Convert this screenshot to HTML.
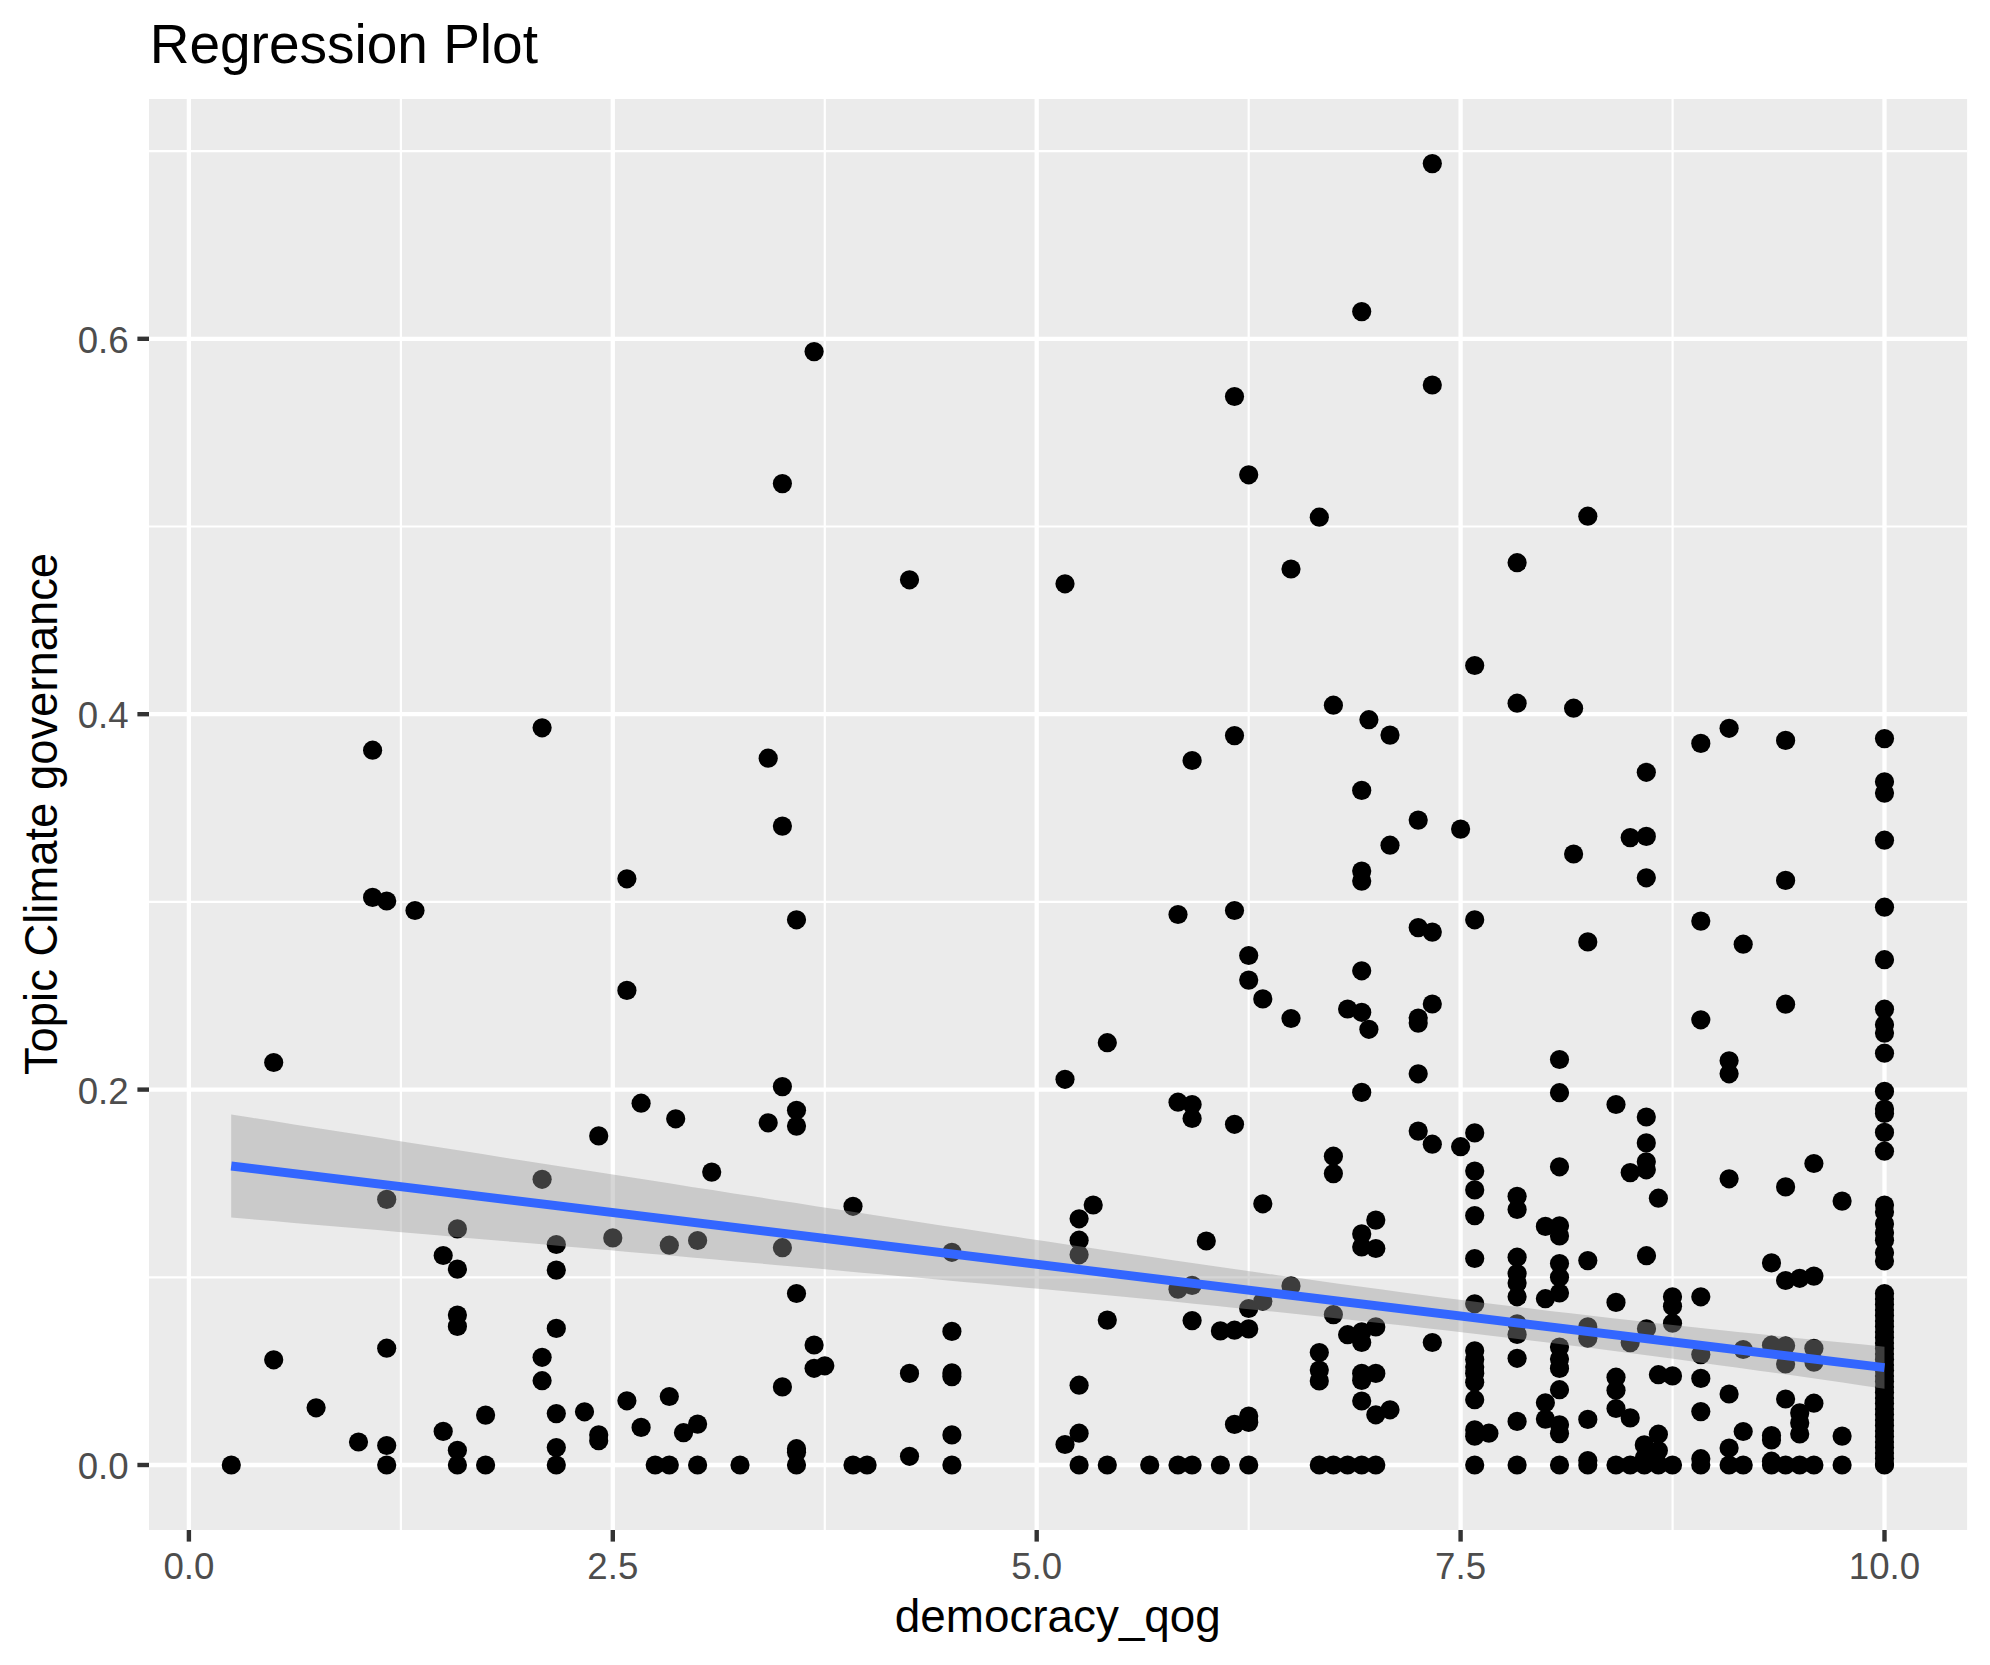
<!DOCTYPE html>
<html lang="en"><head><meta charset="utf-8"><title>Regression Plot</title>
<style>html,body{margin:0;padding:0;background:#fff}svg{display:block}text{font-family:"Liberation Sans", Arial, Helvetica, sans-serif}</style></head><body>
<svg width="1990" height="1665" viewBox="0 0 1990 1665">
<rect width="1990" height="1665" fill="#fff"/>
<rect x="149.0" y="99.0" width="1818.1" height="1431.0" fill="#EBEBEB"/>
<g stroke="#fff" stroke-width="2.2">
<line x1="149.0" x2="1967.1" y1="1277.3" y2="1277.3"/>
<line x1="149.0" x2="1967.1" y1="901.9" y2="901.9"/>
<line x1="149.0" x2="1967.1" y1="526.5" y2="526.5"/>
<line x1="149.0" x2="1967.1" y1="151.1" y2="151.1"/>
<line x1="400.9" x2="400.9" y1="99.0" y2="1530.0"/>
<line x1="824.8" x2="824.8" y1="99.0" y2="1530.0"/>
<line x1="1248.7" x2="1248.7" y1="99.0" y2="1530.0"/>
<line x1="1672.6" x2="1672.6" y1="99.0" y2="1530.0"/>
</g>
<g stroke="#fff" stroke-width="4.3">
<line x1="149.0" x2="1967.1" y1="1465.0" y2="1465.0"/>
<line x1="149.0" x2="1967.1" y1="1089.6" y2="1089.6"/>
<line x1="149.0" x2="1967.1" y1="714.2" y2="714.2"/>
<line x1="149.0" x2="1967.1" y1="338.8" y2="338.8"/>
<line x1="188.9" x2="188.9" y1="99.0" y2="1530.0"/>
<line x1="612.8" x2="612.8" y1="99.0" y2="1530.0"/>
<line x1="1036.7" x2="1036.7" y1="99.0" y2="1530.0"/>
<line x1="1460.6" x2="1460.6" y1="99.0" y2="1530.0"/>
<line x1="1884.5" x2="1884.5" y1="99.0" y2="1530.0"/>
</g>
<g fill="#000">
<circle cx="231.3" cy="1465.0" r="9.6"/>
<circle cx="273.7" cy="1359.8" r="9.6"/>
<circle cx="316.1" cy="1407.8" r="9.6"/>
<circle cx="358.5" cy="1442.0" r="9.6"/>
<circle cx="386.7" cy="1465.0" r="9.6"/>
<circle cx="386.7" cy="1445.5" r="9.6"/>
<circle cx="386.7" cy="1348.2" r="9.6"/>
<circle cx="443.2" cy="1255.5" r="9.6"/>
<circle cx="443.2" cy="1431.4" r="9.6"/>
<circle cx="457.4" cy="1228.9" r="9.6"/>
<circle cx="457.4" cy="1269.1" r="9.6"/>
<circle cx="457.4" cy="1315.1" r="9.6"/>
<circle cx="457.4" cy="1326.4" r="9.6"/>
<circle cx="457.4" cy="1450.3" r="9.6"/>
<circle cx="457.4" cy="1465.0" r="9.6"/>
<circle cx="485.6" cy="1415.1" r="9.6"/>
<circle cx="485.6" cy="1465.0" r="9.6"/>
<circle cx="542.1" cy="1357.3" r="9.6"/>
<circle cx="542.1" cy="1380.7" r="9.6"/>
<circle cx="556.3" cy="1244.5" r="9.6"/>
<circle cx="556.3" cy="1270.1" r="9.6"/>
<circle cx="556.3" cy="1328.4" r="9.6"/>
<circle cx="556.3" cy="1413.6" r="9.6"/>
<circle cx="556.3" cy="1447.5" r="9.6"/>
<circle cx="556.3" cy="1465.0" r="9.6"/>
<circle cx="584.5" cy="1411.8" r="9.6"/>
<circle cx="598.7" cy="1434.9" r="9.6"/>
<circle cx="598.7" cy="1440.7" r="9.6"/>
<circle cx="612.8" cy="1237.9" r="9.6"/>
<circle cx="626.9" cy="1400.8" r="9.6"/>
<circle cx="641.1" cy="1427.4" r="9.6"/>
<circle cx="655.2" cy="1465.0" r="9.6"/>
<circle cx="669.3" cy="1245.2" r="9.6"/>
<circle cx="669.3" cy="1396.5" r="9.6"/>
<circle cx="669.3" cy="1465.0" r="9.6"/>
<circle cx="683.5" cy="1432.7" r="9.6"/>
<circle cx="697.6" cy="1240.5" r="9.6"/>
<circle cx="697.6" cy="1424.1" r="9.6"/>
<circle cx="697.6" cy="1465.0" r="9.6"/>
<circle cx="740.0" cy="1465.0" r="9.6"/>
<circle cx="782.4" cy="1247.7" r="9.6"/>
<circle cx="782.4" cy="1386.9" r="9.6"/>
<circle cx="796.5" cy="1293.5" r="9.6"/>
<circle cx="796.5" cy="1448.7" r="9.6"/>
<circle cx="796.5" cy="1452.3" r="9.6"/>
<circle cx="796.5" cy="1465.0" r="9.6"/>
<circle cx="814.1" cy="1345.0" r="9.6"/>
<circle cx="814.1" cy="1368.3" r="9.6"/>
<circle cx="824.8" cy="1365.8" r="9.6"/>
<circle cx="853.0" cy="1206.3" r="9.6"/>
<circle cx="853.0" cy="1465.0" r="9.6"/>
<circle cx="867.1" cy="1465.0" r="9.6"/>
<circle cx="909.5" cy="1373.4" r="9.6"/>
<circle cx="909.5" cy="1456.3" r="9.6"/>
<circle cx="951.9" cy="1252.3" r="9.6"/>
<circle cx="951.9" cy="1331.4" r="9.6"/>
<circle cx="951.9" cy="1372.9" r="9.6"/>
<circle cx="951.9" cy="1376.6" r="9.6"/>
<circle cx="951.9" cy="1434.9" r="9.6"/>
<circle cx="951.9" cy="1465.0" r="9.6"/>
<circle cx="1065.0" cy="1444.5" r="9.6"/>
<circle cx="1079.1" cy="1218.8" r="9.6"/>
<circle cx="1079.1" cy="1240.2" r="9.6"/>
<circle cx="1079.1" cy="1254.8" r="9.6"/>
<circle cx="1079.1" cy="1385.2" r="9.6"/>
<circle cx="1079.1" cy="1433.2" r="9.6"/>
<circle cx="1079.1" cy="1465.0" r="9.6"/>
<circle cx="1093.2" cy="1205.0" r="9.6"/>
<circle cx="1107.3" cy="1320.1" r="9.6"/>
<circle cx="1107.3" cy="1465.0" r="9.6"/>
<circle cx="1149.7" cy="1465.0" r="9.6"/>
<circle cx="1178.0" cy="1289.2" r="9.6"/>
<circle cx="1178.0" cy="1465.0" r="9.6"/>
<circle cx="1192.1" cy="1285.4" r="9.6"/>
<circle cx="1192.1" cy="1320.6" r="9.6"/>
<circle cx="1192.1" cy="1465.0" r="9.6"/>
<circle cx="1206.3" cy="1241.0" r="9.6"/>
<circle cx="1220.4" cy="1330.9" r="9.6"/>
<circle cx="1220.4" cy="1465.0" r="9.6"/>
<circle cx="1234.5" cy="1330.2" r="9.6"/>
<circle cx="1234.5" cy="1424.4" r="9.6"/>
<circle cx="1248.7" cy="1308.5" r="9.6"/>
<circle cx="1248.7" cy="1328.9" r="9.6"/>
<circle cx="1248.7" cy="1416.1" r="9.6"/>
<circle cx="1248.7" cy="1422.4" r="9.6"/>
<circle cx="1248.7" cy="1465.0" r="9.6"/>
<circle cx="1262.8" cy="1203.8" r="9.6"/>
<circle cx="1262.8" cy="1301.3" r="9.6"/>
<circle cx="1291.0" cy="1285.9" r="9.6"/>
<circle cx="1319.3" cy="1352.5" r="9.6"/>
<circle cx="1319.3" cy="1370.1" r="9.6"/>
<circle cx="1319.3" cy="1380.9" r="9.6"/>
<circle cx="1319.3" cy="1465.0" r="9.6"/>
<circle cx="1333.4" cy="1314.6" r="9.6"/>
<circle cx="1333.4" cy="1465.0" r="9.6"/>
<circle cx="1347.6" cy="1334.7" r="9.6"/>
<circle cx="1347.6" cy="1465.0" r="9.6"/>
<circle cx="1361.7" cy="1233.9" r="9.6"/>
<circle cx="1361.7" cy="1247.0" r="9.6"/>
<circle cx="1361.7" cy="1331.9" r="9.6"/>
<circle cx="1361.7" cy="1342.5" r="9.6"/>
<circle cx="1361.7" cy="1373.4" r="9.6"/>
<circle cx="1361.7" cy="1380.4" r="9.6"/>
<circle cx="1361.7" cy="1401.0" r="9.6"/>
<circle cx="1361.7" cy="1465.0" r="9.6"/>
<circle cx="1375.8" cy="1220.1" r="9.6"/>
<circle cx="1375.8" cy="1248.5" r="9.6"/>
<circle cx="1375.8" cy="1326.9" r="9.6"/>
<circle cx="1375.8" cy="1373.4" r="9.6"/>
<circle cx="1375.8" cy="1414.8" r="9.6"/>
<circle cx="1375.8" cy="1465.0" r="9.6"/>
<circle cx="1390.0" cy="1409.8" r="9.6"/>
<circle cx="1432.3" cy="1342.5" r="9.6"/>
<circle cx="1474.7" cy="1215.6" r="9.6"/>
<circle cx="1474.7" cy="1258.5" r="9.6"/>
<circle cx="1474.7" cy="1303.8" r="9.6"/>
<circle cx="1474.7" cy="1350.8" r="9.6"/>
<circle cx="1474.7" cy="1359.5" r="9.6"/>
<circle cx="1474.7" cy="1367.1" r="9.6"/>
<circle cx="1474.7" cy="1373.4" r="9.6"/>
<circle cx="1474.7" cy="1382.2" r="9.6"/>
<circle cx="1474.7" cy="1399.7" r="9.6"/>
<circle cx="1474.7" cy="1429.9" r="9.6"/>
<circle cx="1474.7" cy="1436.2" r="9.6"/>
<circle cx="1474.7" cy="1465.0" r="9.6"/>
<circle cx="1488.9" cy="1433.2" r="9.6"/>
<circle cx="1517.1" cy="1196.3" r="9.6"/>
<circle cx="1517.1" cy="1209.5" r="9.6"/>
<circle cx="1517.1" cy="1257.2" r="9.6"/>
<circle cx="1517.1" cy="1273.5" r="9.6"/>
<circle cx="1517.1" cy="1283.0" r="9.6"/>
<circle cx="1517.1" cy="1296.8" r="9.6"/>
<circle cx="1517.1" cy="1323.8" r="9.6"/>
<circle cx="1517.1" cy="1334.5" r="9.6"/>
<circle cx="1517.1" cy="1358.3" r="9.6"/>
<circle cx="1545.4" cy="1226.4" r="9.6"/>
<circle cx="1545.4" cy="1298.7" r="9.6"/>
<circle cx="1559.5" cy="1225.8" r="9.6"/>
<circle cx="1559.5" cy="1235.9" r="9.6"/>
<circle cx="1559.5" cy="1263.5" r="9.6"/>
<circle cx="1559.5" cy="1277.3" r="9.6"/>
<circle cx="1559.5" cy="1293.0" r="9.6"/>
<circle cx="1559.5" cy="1347.0" r="9.6"/>
<circle cx="1559.5" cy="1359.0" r="9.6"/>
<circle cx="1559.5" cy="1368.4" r="9.6"/>
<circle cx="1559.5" cy="1389.7" r="9.6"/>
<circle cx="1587.8" cy="1260.6" r="9.6"/>
<circle cx="1587.8" cy="1326.9" r="9.6"/>
<circle cx="1587.8" cy="1338.2" r="9.6"/>
<circle cx="1616.0" cy="1302.4" r="9.6"/>
<circle cx="1616.0" cy="1377.2" r="9.6"/>
<circle cx="1630.2" cy="1342.6" r="9.6"/>
<circle cx="1646.5" cy="1255.7" r="9.6"/>
<circle cx="1646.5" cy="1328.8" r="9.6"/>
<circle cx="1658.4" cy="1198.2" r="9.6"/>
<circle cx="1658.4" cy="1374.7" r="9.6"/>
<circle cx="1672.5" cy="1296.8" r="9.6"/>
<circle cx="1672.5" cy="1306.2" r="9.6"/>
<circle cx="1672.5" cy="1323.2" r="9.6"/>
<circle cx="1672.5" cy="1375.9" r="9.6"/>
<circle cx="1700.8" cy="1296.8" r="9.6"/>
<circle cx="1700.8" cy="1354.6" r="9.6"/>
<circle cx="1700.8" cy="1378.4" r="9.6"/>
<circle cx="1842.1" cy="1201.1" r="9.6"/>
<circle cx="1771.5" cy="1262.9" r="9.6"/>
<circle cx="1785.6" cy="1280.5" r="9.6"/>
<circle cx="1799.7" cy="1278.3" r="9.6"/>
<circle cx="1813.9" cy="1276.1" r="9.6"/>
<circle cx="1743.2" cy="1349.5" r="9.6"/>
<circle cx="1771.5" cy="1345.2" r="9.6"/>
<circle cx="1785.6" cy="1345.8" r="9.6"/>
<circle cx="1785.6" cy="1364.0" r="9.6"/>
<circle cx="1813.9" cy="1348.3" r="9.6"/>
<circle cx="1813.9" cy="1362.1" r="9.6"/>
<circle cx="1884.5" cy="1205.1" r="9.6"/>
<circle cx="1884.5" cy="1212.0" r="9.6"/>
<circle cx="1884.5" cy="1223.9" r="9.6"/>
<circle cx="1884.5" cy="1232.7" r="9.6"/>
<circle cx="1884.5" cy="1240.3" r="9.6"/>
<circle cx="1884.5" cy="1252.8" r="9.6"/>
<circle cx="1884.5" cy="1261.0" r="9.6"/>
<circle cx="1517.1" cy="1421.4" r="9.6"/>
<circle cx="1517.1" cy="1465.0" r="9.6"/>
<circle cx="1545.4" cy="1402.8" r="9.6"/>
<circle cx="1545.4" cy="1419.1" r="9.6"/>
<circle cx="1559.5" cy="1424.8" r="9.6"/>
<circle cx="1559.5" cy="1433.6" r="9.6"/>
<circle cx="1559.5" cy="1465.0" r="9.6"/>
<circle cx="1587.8" cy="1419.4" r="9.6"/>
<circle cx="1587.8" cy="1460.6" r="9.6"/>
<circle cx="1587.8" cy="1465.0" r="9.6"/>
<circle cx="1616.0" cy="1390.3" r="9.6"/>
<circle cx="1616.0" cy="1408.5" r="9.6"/>
<circle cx="1616.0" cy="1465.0" r="9.6"/>
<circle cx="1630.2" cy="1417.9" r="9.6"/>
<circle cx="1630.2" cy="1465.0" r="9.6"/>
<circle cx="1658.4" cy="1434.2" r="9.6"/>
<circle cx="1658.4" cy="1450.6" r="9.6"/>
<circle cx="1658.4" cy="1465.0" r="9.6"/>
<circle cx="1644.3" cy="1444.9" r="9.6"/>
<circle cx="1644.3" cy="1458.1" r="9.6"/>
<circle cx="1644.3" cy="1465.0" r="9.6"/>
<circle cx="1672.5" cy="1465.0" r="9.6"/>
<circle cx="1700.8" cy="1411.6" r="9.6"/>
<circle cx="1700.8" cy="1458.7" r="9.6"/>
<circle cx="1700.8" cy="1465.0" r="9.6"/>
<circle cx="1729.1" cy="1394.0" r="9.6"/>
<circle cx="1729.1" cy="1448.0" r="9.6"/>
<circle cx="1729.1" cy="1465.0" r="9.6"/>
<circle cx="1743.2" cy="1431.5" r="9.6"/>
<circle cx="1743.2" cy="1465.0" r="9.6"/>
<circle cx="1771.5" cy="1435.5" r="9.6"/>
<circle cx="1771.5" cy="1439.9" r="9.6"/>
<circle cx="1771.5" cy="1461.2" r="9.6"/>
<circle cx="1771.5" cy="1465.0" r="9.6"/>
<circle cx="1785.6" cy="1399.0" r="9.6"/>
<circle cx="1785.6" cy="1465.0" r="9.6"/>
<circle cx="1799.7" cy="1412.9" r="9.6"/>
<circle cx="1799.7" cy="1422.9" r="9.6"/>
<circle cx="1799.7" cy="1434.0" r="9.6"/>
<circle cx="1799.7" cy="1465.0" r="9.6"/>
<circle cx="1813.9" cy="1403.2" r="9.6"/>
<circle cx="1813.9" cy="1465.0" r="9.6"/>
<circle cx="1842.1" cy="1436.1" r="9.6"/>
<circle cx="1842.1" cy="1465.0" r="9.6"/>
<circle cx="1559.5" cy="1059.5" r="9.6"/>
<circle cx="1559.5" cy="1092.7" r="9.6"/>
<circle cx="1559.5" cy="1166.8" r="9.6"/>
<circle cx="1573.6" cy="854.0" r="9.6"/>
<circle cx="1587.8" cy="941.9" r="9.6"/>
<circle cx="1616.0" cy="1104.5" r="9.6"/>
<circle cx="1630.2" cy="837.6" r="9.6"/>
<circle cx="1630.2" cy="1172.6" r="9.6"/>
<circle cx="1646.3" cy="836.4" r="9.6"/>
<circle cx="1646.3" cy="877.8" r="9.6"/>
<circle cx="1646.3" cy="1117.0" r="9.6"/>
<circle cx="1646.3" cy="1142.9" r="9.6"/>
<circle cx="1646.3" cy="1161.8" r="9.6"/>
<circle cx="1646.3" cy="1169.8" r="9.6"/>
<circle cx="1700.8" cy="921.1" r="9.6"/>
<circle cx="1700.8" cy="1019.8" r="9.6"/>
<circle cx="1729.1" cy="1060.8" r="9.6"/>
<circle cx="1729.1" cy="1073.8" r="9.6"/>
<circle cx="1729.1" cy="1178.8" r="9.6"/>
<circle cx="1743.2" cy="944.2" r="9.6"/>
<circle cx="1785.6" cy="880.4" r="9.6"/>
<circle cx="1785.6" cy="1004.2" r="9.6"/>
<circle cx="1785.6" cy="1186.9" r="9.6"/>
<circle cx="1813.9" cy="1163.5" r="9.6"/>
<circle cx="1884.5" cy="840.2" r="9.6"/>
<circle cx="1884.5" cy="907.2" r="9.6"/>
<circle cx="1884.5" cy="959.7" r="9.6"/>
<circle cx="1884.5" cy="1009.2" r="9.6"/>
<circle cx="1884.5" cy="1024.8" r="9.6"/>
<circle cx="1884.5" cy="1033.1" r="9.6"/>
<circle cx="1884.5" cy="1053.2" r="9.6"/>
<circle cx="1884.5" cy="1091.4" r="9.6"/>
<circle cx="1884.5" cy="1109.0" r="9.6"/>
<circle cx="1884.5" cy="1113.5" r="9.6"/>
<circle cx="1884.5" cy="1132.4" r="9.6"/>
<circle cx="1884.5" cy="1151.2" r="9.6"/>
<circle cx="1517.1" cy="562.7" r="9.6"/>
<circle cx="1517.1" cy="703.2" r="9.6"/>
<circle cx="1587.8" cy="516.2" r="9.6"/>
<circle cx="1573.6" cy="708.2" r="9.6"/>
<circle cx="1646.3" cy="772.3" r="9.6"/>
<circle cx="1700.8" cy="743.4" r="9.6"/>
<circle cx="1729.1" cy="728.3" r="9.6"/>
<circle cx="1785.6" cy="740.4" r="9.6"/>
<circle cx="1884.5" cy="738.6" r="9.6"/>
<circle cx="1884.5" cy="781.8" r="9.6"/>
<circle cx="1884.5" cy="793.1" r="9.6"/>
<circle cx="1065.0" cy="1079.3" r="9.6"/>
<circle cx="1107.3" cy="1042.7" r="9.6"/>
<circle cx="1178.0" cy="914.5" r="9.6"/>
<circle cx="1178.0" cy="1102.2" r="9.6"/>
<circle cx="1192.1" cy="1104.5" r="9.6"/>
<circle cx="1192.1" cy="1118.5" r="9.6"/>
<circle cx="1234.5" cy="910.5" r="9.6"/>
<circle cx="1234.5" cy="1124.3" r="9.6"/>
<circle cx="1248.7" cy="955.5" r="9.6"/>
<circle cx="1248.7" cy="980.1" r="9.6"/>
<circle cx="1262.8" cy="998.9" r="9.6"/>
<circle cx="1291.0" cy="1018.5" r="9.6"/>
<circle cx="1333.4" cy="1156.2" r="9.6"/>
<circle cx="1333.4" cy="1173.6" r="9.6"/>
<circle cx="1347.6" cy="1009.0" r="9.6"/>
<circle cx="1361.7" cy="871.1" r="9.6"/>
<circle cx="1361.7" cy="881.1" r="9.6"/>
<circle cx="1361.7" cy="970.8" r="9.6"/>
<circle cx="1361.7" cy="1012.3" r="9.6"/>
<circle cx="1368.9" cy="1029.3" r="9.6"/>
<circle cx="1361.7" cy="1092.4" r="9.6"/>
<circle cx="1390.0" cy="845.2" r="9.6"/>
<circle cx="1418.2" cy="820.1" r="9.6"/>
<circle cx="1418.2" cy="927.6" r="9.6"/>
<circle cx="1432.3" cy="932.1" r="9.6"/>
<circle cx="1432.3" cy="1004.0" r="9.6"/>
<circle cx="1418.2" cy="1018.0" r="9.6"/>
<circle cx="1418.2" cy="1023.1" r="9.6"/>
<circle cx="1418.2" cy="1073.8" r="9.6"/>
<circle cx="1418.2" cy="1131.1" r="9.6"/>
<circle cx="1432.3" cy="1144.2" r="9.6"/>
<circle cx="1460.6" cy="829.1" r="9.6"/>
<circle cx="1460.6" cy="1146.7" r="9.6"/>
<circle cx="1474.7" cy="919.8" r="9.6"/>
<circle cx="1474.7" cy="1132.9" r="9.6"/>
<circle cx="1474.7" cy="1171.1" r="9.6"/>
<circle cx="1474.7" cy="1189.9" r="9.6"/>
<circle cx="1065.0" cy="583.8" r="9.6"/>
<circle cx="1248.7" cy="474.8" r="9.6"/>
<circle cx="1319.3" cy="517.2" r="9.6"/>
<circle cx="1291.0" cy="569.0" r="9.6"/>
<circle cx="1192.1" cy="760.5" r="9.6"/>
<circle cx="1234.5" cy="735.6" r="9.6"/>
<circle cx="1333.4" cy="705.2" r="9.6"/>
<circle cx="1368.9" cy="719.7" r="9.6"/>
<circle cx="1390.0" cy="735.1" r="9.6"/>
<circle cx="1361.7" cy="790.4" r="9.6"/>
<circle cx="1474.7" cy="665.5" r="9.6"/>
<circle cx="1432.3" cy="163.6" r="9.6"/>
<circle cx="1361.7" cy="311.6" r="9.6"/>
<circle cx="1432.3" cy="385.0" r="9.6"/>
<circle cx="1234.5" cy="396.5" r="9.6"/>
<circle cx="598.7" cy="1135.9" r="9.6"/>
<circle cx="626.9" cy="878.8" r="9.6"/>
<circle cx="626.9" cy="990.4" r="9.6"/>
<circle cx="641.1" cy="1103.2" r="9.6"/>
<circle cx="675.7" cy="1118.8" r="9.6"/>
<circle cx="711.7" cy="1172.1" r="9.6"/>
<circle cx="768.2" cy="1122.8" r="9.6"/>
<circle cx="782.4" cy="826.1" r="9.6"/>
<circle cx="782.4" cy="1086.6" r="9.6"/>
<circle cx="796.5" cy="919.8" r="9.6"/>
<circle cx="796.5" cy="1110.3" r="9.6"/>
<circle cx="796.5" cy="1126.1" r="9.6"/>
<circle cx="273.7" cy="1062.5" r="9.6"/>
<circle cx="372.6" cy="897.4" r="9.6"/>
<circle cx="386.7" cy="901.0" r="9.6"/>
<circle cx="415.0" cy="910.5" r="9.6"/>
<circle cx="542.1" cy="1179.3" r="9.6"/>
<circle cx="386.7" cy="1199.4" r="9.6"/>
<circle cx="782.4" cy="483.6" r="9.6"/>
<circle cx="909.5" cy="579.8" r="9.6"/>
<circle cx="768.2" cy="758.2" r="9.6"/>
<circle cx="814.1" cy="351.6" r="9.6"/>
<circle cx="542.1" cy="727.8" r="9.6"/>
<circle cx="372.6" cy="750.2" r="9.6"/>
<circle cx="1884.5" cy="1293.6" r="9.6"/>
<circle cx="1884.5" cy="1299.1" r="9.6"/>
<circle cx="1884.5" cy="1304.6" r="9.6"/>
<circle cx="1884.5" cy="1310.1" r="9.6"/>
<circle cx="1884.5" cy="1315.6" r="9.6"/>
<circle cx="1884.5" cy="1321.1" r="9.6"/>
<circle cx="1884.5" cy="1326.6" r="9.6"/>
<circle cx="1884.5" cy="1332.1" r="9.6"/>
<circle cx="1884.5" cy="1337.6" r="9.6"/>
<circle cx="1884.5" cy="1343.1" r="9.6"/>
<circle cx="1884.5" cy="1348.6" r="9.6"/>
<circle cx="1884.5" cy="1354.1" r="9.6"/>
<circle cx="1884.5" cy="1359.6" r="9.6"/>
<circle cx="1884.5" cy="1365.1" r="9.6"/>
<circle cx="1884.5" cy="1370.6" r="9.6"/>
<circle cx="1884.5" cy="1376.1" r="9.6"/>
<circle cx="1884.5" cy="1381.6" r="9.6"/>
<circle cx="1884.5" cy="1387.1" r="9.6"/>
<circle cx="1884.5" cy="1392.6" r="9.6"/>
<circle cx="1884.5" cy="1398.1" r="9.6"/>
<circle cx="1884.5" cy="1403.6" r="9.6"/>
<circle cx="1884.5" cy="1409.1" r="9.6"/>
<circle cx="1884.5" cy="1414.6" r="9.6"/>
<circle cx="1884.5" cy="1420.1" r="9.6"/>
<circle cx="1884.5" cy="1425.6" r="9.6"/>
<circle cx="1884.5" cy="1431.1" r="9.6"/>
<circle cx="1884.5" cy="1436.6" r="9.6"/>
<circle cx="1884.5" cy="1442.1" r="9.6"/>
<circle cx="1884.5" cy="1447.6" r="9.6"/>
<circle cx="1884.5" cy="1453.1" r="9.6"/>
<circle cx="1884.5" cy="1458.6" r="9.6"/>
<circle cx="1884.5" cy="1464.1" r="9.6"/>
<circle cx="1884.5" cy="1465.0" r="9.6"/>
</g>
<polygon points="231.2,1114.5 252.1,1117.8 273.1,1121.1 294.0,1124.4 314.9,1127.7 335.8,1131.0 356.8,1134.3 377.7,1137.6 398.6,1140.9 419.6,1144.2 440.5,1147.5 461.4,1150.8 482.3,1154.1 503.3,1157.4 524.2,1160.7 545.1,1164.0 566.0,1167.2 587.0,1170.5 607.9,1173.8 628.8,1177.1 649.8,1180.3 670.7,1183.6 691.6,1186.9 712.5,1190.1 733.5,1193.4 754.4,1196.6 775.3,1199.9 796.3,1203.1 817.2,1206.4 838.1,1209.6 859.0,1212.8 880.0,1216.0 900.9,1219.2 921.8,1222.5 942.7,1225.7 963.7,1228.8 984.6,1232.0 1005.5,1235.2 1026.5,1238.4 1047.4,1241.5 1068.3,1244.7 1089.2,1247.8 1110.2,1250.9 1131.1,1254.0 1152.0,1257.1 1173.0,1260.2 1193.9,1263.2 1214.8,1266.2 1235.7,1269.3 1256.7,1272.2 1277.6,1275.2 1298.5,1278.1 1319.4,1281.1 1340.4,1283.9 1361.3,1286.8 1382.2,1289.6 1403.2,1292.4 1424.1,1295.2 1445.0,1297.9 1465.9,1300.5 1486.9,1303.2 1507.8,1305.8 1528.7,1308.3 1549.7,1310.9 1570.6,1313.3 1591.5,1315.8 1612.4,1318.2 1633.4,1320.6 1654.3,1322.9 1675.2,1325.2 1696.1,1327.5 1717.1,1329.7 1738.0,1331.9 1758.9,1334.1 1779.9,1336.2 1800.8,1338.4 1821.7,1340.5 1842.6,1342.5 1863.6,1344.6 1884.5,1346.7 1884.5,1388.7 1863.6,1385.7 1842.6,1382.6 1821.7,1379.6 1800.8,1376.6 1779.9,1373.6 1758.9,1370.7 1738.0,1367.8 1717.1,1364.9 1696.1,1362.0 1675.2,1359.1 1654.3,1356.3 1633.4,1353.6 1612.4,1350.8 1591.5,1348.1 1570.6,1345.5 1549.7,1342.8 1528.7,1340.2 1507.8,1337.7 1486.9,1335.2 1465.9,1332.7 1445.0,1330.3 1424.1,1327.9 1403.2,1325.6 1382.2,1323.2 1361.3,1320.9 1340.4,1318.7 1319.4,1316.5 1298.5,1314.3 1277.6,1312.1 1256.7,1310.0 1235.7,1307.9 1214.8,1305.8 1193.9,1303.7 1173.0,1301.6 1152.0,1299.6 1131.1,1297.6 1110.2,1295.6 1089.2,1293.6 1068.3,1291.6 1047.4,1289.6 1026.5,1287.7 1005.5,1285.7 984.6,1283.8 963.7,1281.9 942.7,1280.0 921.8,1278.1 900.9,1276.2 880.0,1274.3 859.0,1272.4 838.1,1270.5 817.2,1268.6 796.3,1266.8 775.3,1264.9 754.4,1263.0 733.5,1261.2 712.5,1259.3 691.6,1257.5 670.7,1255.6 649.8,1253.8 628.8,1252.0 607.9,1250.1 587.0,1248.3 566.0,1246.5 545.1,1244.6 524.2,1242.8 503.3,1241.0 482.3,1239.2 461.4,1237.4 440.5,1235.5 419.6,1233.7 398.6,1231.9 377.7,1230.1 356.8,1228.3 335.8,1226.5 314.9,1224.7 294.0,1222.9 273.1,1221.1 252.1,1219.3 231.2,1217.5" fill="#999999" fill-opacity="0.4"/>
<line x1="231.2" y1="1166.0" x2="1884.5" y2="1367.7" stroke="#3366FF" stroke-width="8.9"/>
<g stroke="#333333" stroke-width="4.4">
<line x1="137.4" x2="149.0" y1="1465.0" y2="1465.0"/>
<line x1="137.4" x2="149.0" y1="1089.6" y2="1089.6"/>
<line x1="137.4" x2="149.0" y1="714.2" y2="714.2"/>
<line x1="137.4" x2="149.0" y1="338.8" y2="338.8"/>
<line x1="188.9" x2="188.9" y1="1530.0" y2="1541.6"/>
<line x1="612.8" x2="612.8" y1="1530.0" y2="1541.6"/>
<line x1="1036.7" x2="1036.7" y1="1530.0" y2="1541.6"/>
<line x1="1460.6" x2="1460.6" y1="1530.0" y2="1541.6"/>
<line x1="1884.5" x2="1884.5" y1="1530.0" y2="1541.6"/>
</g>
<g fill="#4D4D4D" font-size="36.67">
<text x="128.7" y="1479.0" text-anchor="end">0.0</text>
<text x="128.7" y="1103.6" text-anchor="end">0.2</text>
<text x="128.7" y="728.2" text-anchor="end">0.4</text>
<text x="128.7" y="352.8" text-anchor="end">0.6</text>
<text x="188.9" y="1578.8" text-anchor="middle">0.0</text>
<text x="612.8" y="1578.8" text-anchor="middle">2.5</text>
<text x="1036.7" y="1578.8" text-anchor="middle">5.0</text>
<text x="1460.6" y="1578.8" text-anchor="middle">7.5</text>
<text x="1884.5" y="1578.8" text-anchor="middle">10.0</text>
</g>
<text x="1057.8" y="1631.5" font-size="45.83" text-anchor="middle" fill="#000">democracy_qog</text>
<text transform="translate(56.5,814.0) rotate(-90)" font-size="45.4" textLength="522.2" lengthAdjust="spacingAndGlyphs" text-anchor="middle" fill="#000">Topic Climate governance</text>
<text x="149.7" y="63.2" font-size="55" fill="#000">Regression Plot</text>
</svg></body></html>
